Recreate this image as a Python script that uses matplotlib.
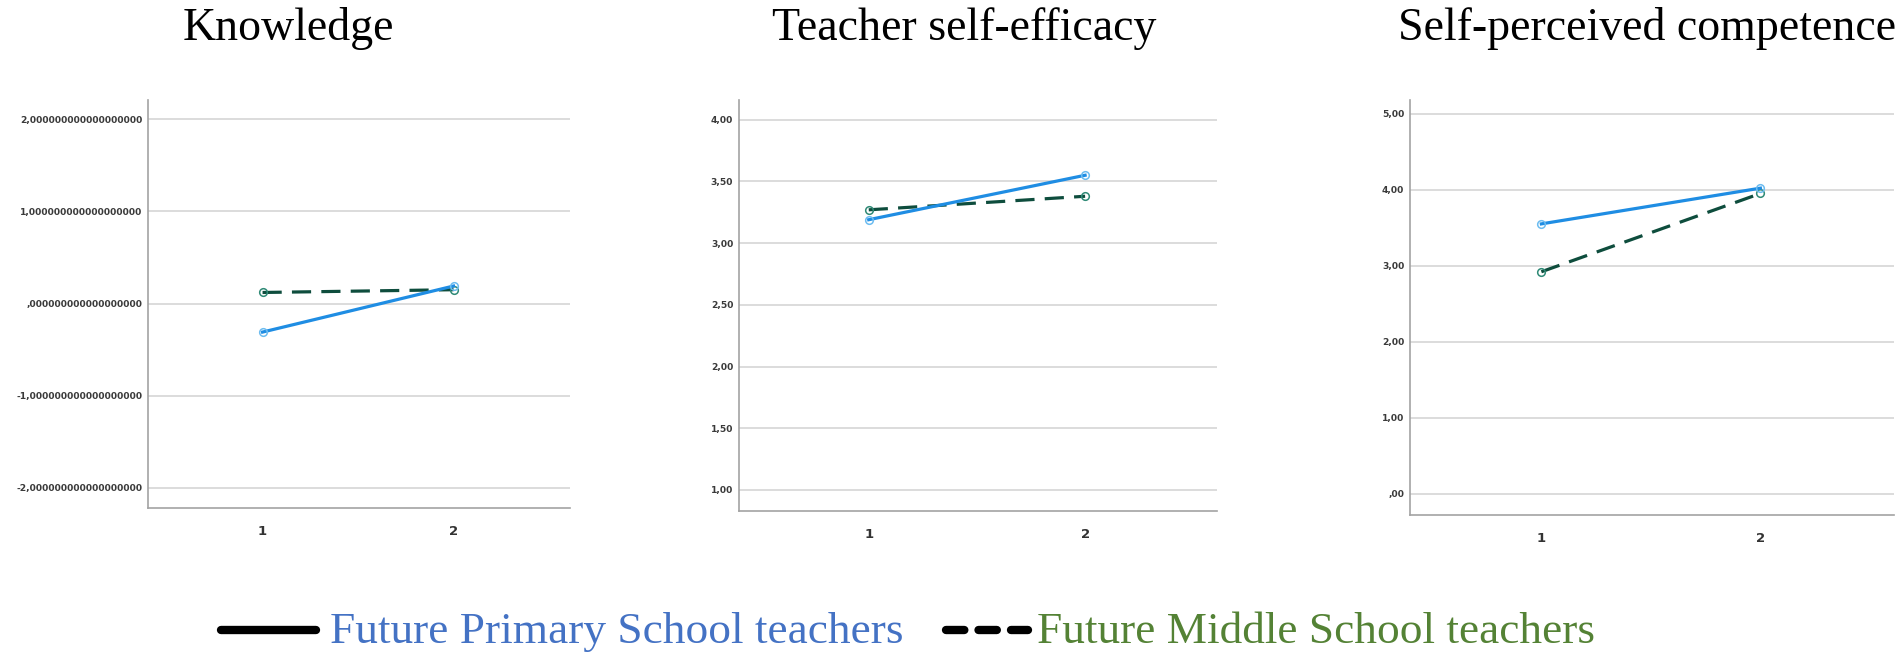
import matplotlib
matplotlib.use('Agg')
import matplotlib.pyplot as plt
from matplotlib.lines import Line2D

# ---- data ----
time_points = [1, 2]

knowledge_primary = [-0.31, 0.19]
knowledge_middle = [0.12, 0.15]

efficacy_primary = [3.19, 3.55]
efficacy_middle = [3.27, 3.38]

competence_primary = [3.55, 4.02]
competence_middle = [2.92, 3.95]

titles = ['Knowledge', 'Teacher self-efficacy', 'Self-perceived competence']
knowledge_ticks = [-2, -1, 0, 1, 2]
efficacy_ticks = [1.0, 1.5, 2.0, 2.5, 3.0, 3.5, 4.0]
competence_ticks = [0, 1, 2, 3, 4, 5]

legend_labels = ['Future Primary School teachers', 'Future Middle School teachers']

# ---- style ----
BLUE = '#1f8de3'
BLUE_MK = '#6cbcf0'
GREEN = '#0e4d3d'
GREEN_MK = '#2f8a76'
GRID = '#d6d6d6'
SPINE = '#a3a3a3'


def spss_label(v, decimals):
    # SPSS style: decimal comma, no leading zero
    s = f'{v:.{decimals}f}'.replace('.', ',')
    if s.startswith('0,'):
        s = s[1:]
    elif s.startswith('-0,'):
        s = '-' + s[2:]
    return s


fig = plt.figure(figsize=(19.02, 6.63), dpi=100)

panels = [
    # rect, ylim, ticks, decimals, primary, middle
    ([0.0778, 0.2338, 0.2219, 0.6154], (-2.22, 2.21), knowledge_ticks, 18,
     knowledge_primary, knowledge_middle),
    ([0.3885, 0.2293, 0.2514, 0.6199], (0.83, 4.16), efficacy_ticks, 2,
     efficacy_primary, efficacy_middle),
    ([0.7413, 0.2232, 0.2545, 0.6260], (-0.28, 5.18), competence_ticks, 2,
     competence_primary, competence_middle),
]

for rect, ylim, ticks, dec, prim, mid in panels:
    ax = fig.add_axes(rect)
    ax.set_xlim(0.4, 2.61)
    ax.set_ylim(*ylim)
    ax.set_yticks(ticks)
    ax.set_yticklabels([spss_label(t, dec) for t in ticks])
    ax.set_xticks(time_points)
    ax.set_xticklabels([str(t) for t in time_points])
    ax.tick_params(axis='both', length=0)
    ax.tick_params(axis='y', pad=4, labelsize=6.6, labelcolor='#3a3a3a')
    ax.tick_params(axis='x', pad=12, labelsize=9.5, labelcolor='#333333')
    for lbl in ax.get_xticklabels() + ax.get_yticklabels():
        lbl.set_fontweight('bold')
    for side in ['top', 'right']:
        ax.spines[side].set_visible(False)
    for side in ['left', 'bottom']:
        ax.spines[side].set_color(SPINE)
        ax.spines[side].set_linewidth(1.2)
    ax.yaxis.grid(True, color=GRID, linewidth=1.2)
    ax.set_axisbelow(True)

    ax.plot(time_points, mid, color=GREEN, linewidth=2.3,
            linestyle=(0, (6, 3.2)), marker='o', markersize=5.5,
            markerfacecolor='none', markeredgecolor=GREEN_MK,
            markeredgewidth=1.1, zorder=3)
    ax.plot(time_points, prim, color=BLUE, linewidth=2.3,
            marker='o', markersize=5.5, markerfacecolor='none',
            markeredgecolor=BLUE_MK, markeredgewidth=1.1, zorder=4)

# titles
title_x = [288 / 1902, 964 / 1902, 1647 / 1902]
for tx, t in zip(title_x, titles):
    fig.text(tx, 1 - 40 / 663, t, ha='center', va='baseline',
             fontsize=33, family='Liberation Serif', color='black')

# legend drawn at the bottom of the figure
y_leg = 1 - 630 / 663
fig.add_artist(Line2D([221 / 1902, 316 / 1902], [y_leg, y_leg],
                      transform=fig.transFigure, color='black',
                      linewidth=6, solid_capstyle='round'))
fig.add_artist(Line2D([946 / 1902, 1028 / 1902], [y_leg, y_leg],
                      transform=fig.transFigure, color='black',
                      linewidth=6, linestyle=(0, (2.2, 1.7)),
                      dash_capstyle='round'))
fig.text(330 / 1902, 1 - 643 / 663, legend_labels[0], ha='left',
         va='baseline', fontsize=32.7, family='Liberation Serif',
         color='#4472c4')
fig.text(1037 / 1902, 1 - 643 / 663, legend_labels[1], ha='left',
         va='baseline', fontsize=32.7, family='Liberation Serif',
         color='#548235')

fig.savefig('out.png', dpi=100, facecolor='white')
